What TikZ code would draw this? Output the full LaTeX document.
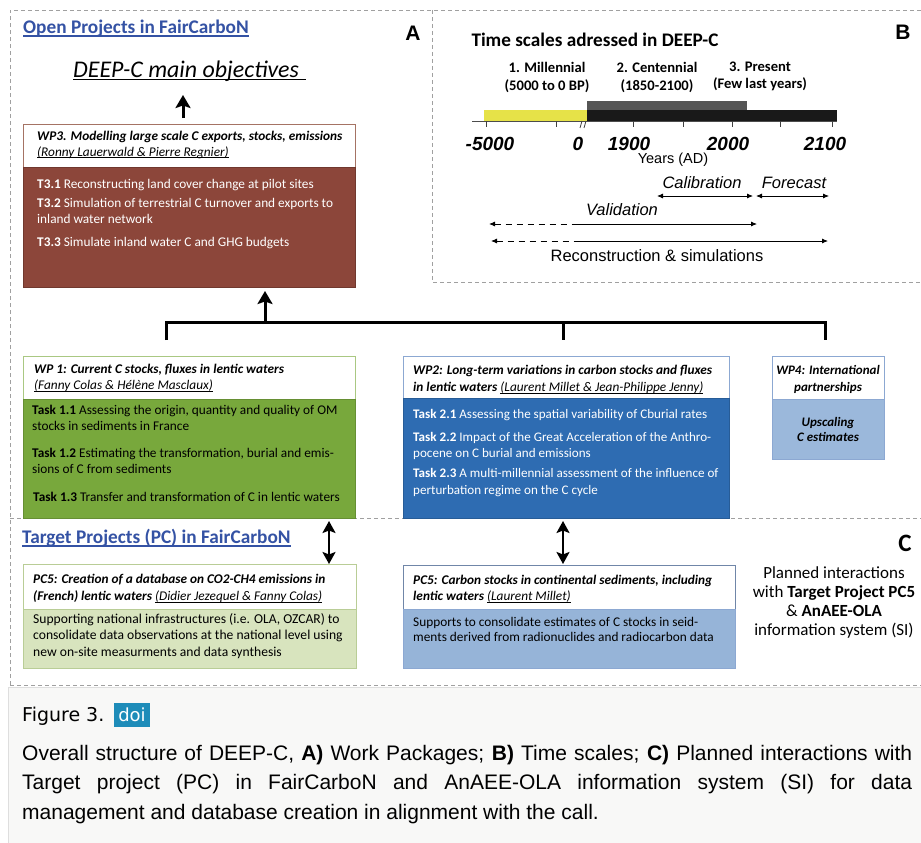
\documentclass[tikz,border=0pt]{standalone}
\usepackage{fontspec}
\setmainfont{Carlito}
\newfontfamily\arialf{Liberation Sans}
\newfontfamily\dejaf{DejaVu Sans}
\usetikzlibrary{arrows.meta}
\newcommand\fsz[2]{\fontsize{#1}{#2}\selectfont}
\newcommand\ulx[1]{\setbox0\hbox{#1}\rlap{\rule[-0.16em]{\wd0}{0.065em}}\box0}
\definecolor{titleblue}{RGB}{52,82,164}
\definecolor{wpbrown}{RGB}{140,70,58}
\definecolor{wpbrownline}{RGB}{165,115,100}
\definecolor{wpgreen}{RGB}{120,168,60}
\definecolor{wpgreenline}{RGB}{170,200,130}
\definecolor{wpblue}{RGB}{46,108,178}
\definecolor{wpblueline}{RGB}{140,168,210}
\definecolor{lightblue}{RGB}{155,184,219}
\definecolor{pcblue}{RGB}{150,180,216}
\definecolor{lightgreen}{RGB}{216,228,190}
\definecolor{lightgreenline}{RGB}{185,205,150}
\definecolor{yellowbar}{RGB}{230,226,72}
\definecolor{graybar}{RGB}{85,85,85}
\definecolor{blackbar}{RGB}{25,25,25}
\definecolor{dashgray}{RGB}{160,160,160}
\definecolor{capbg}{RGB}{248,248,247}
\definecolor{capline}{RGB}{222,222,222}
\definecolor{doiblue}{RGB}{30,140,185}
\tikzset{
  panel/.style={draw=dashgray, line width=0.8pt, dash pattern=on 4pt off 3pt},
  wbox/.style={rectangle, inner sep=0pt, outer sep=0pt, anchor=north west, line width=0.8pt},
  tl/.style={inner sep=0pt, anchor=base west, font=\fsz{13.3}{16}},
  tlb/.style={inner sep=0pt, anchor=base west, font=\fsz{13.6}{16}},
  tlw/.style={inner sep=0pt, anchor=base west, font=\fsz{13.1}{16}},
  tc/.style={inner sep=0pt, anchor=base},
  bigarrow/.style={line width=3pt, -{Stealth[length=13pt,width=15pt,inset=2.5pt]}},
  dblarrow/.style={line width=2.6pt, {Stealth[length=12pt,width=13pt,inset=2.5pt]}-{Stealth[length=12pt,width=13pt,inset=2.5pt]}},
  bracketline/.style={line width=3pt},
  thinarrow/.style={line width=0.8pt},
  lhead/.style={{Latex[length=6pt,width=5pt]}-},
  rhead/.style={-{Latex[length=6pt,width=5pt]}},
}
\begin{document}
\begin{tikzpicture}[x=1pt,y=-1pt]
\useasboundingbox (0,0) rectangle (921,843);
% caption background
\fill[capbg] (8,687) rectangle (921,843);
\draw[capline, line width=0.8pt] (8,843) -- (8,687) -- (921,687);
% panels
\draw[panel] (10,685) -- (10,10) -- (921,10);
\draw[panel] (432,10) -- (432,282) -- (921,282);
\draw[panel] (10,518) -- (921,518);
\draw[panel] (10,685) -- (921,685);

%% ---------- Panel A ----------
\node[tl, font=\fsz{19.3}{22}\bfseries, text=titleblue] (opentitle) at (23,33.5) {\ulx{Open Projects in FairCarboN}};
\node[tc, font=\arialf\bfseries\fsz{21}{24}] (labA) at (413,40.5) {A};
\node[tl, font=\fsz{23.9}{28}\itshape] (objectives) at (73,77.5) {DEEP-C main objectives};
\draw[line width=1pt] (objectives.base west) ++(0,2.5) -- ++(233,0);
\coordinate (objtail) at (183,118);
\coordinate (objtip) at (183,95);
\draw[bigarrow] (objtail) -- (objtip);

% WP3
\node[wbox, draw=wpbrownline, fill=white, minimum width=332pt, minimum height=43pt] (wp3h) at (23,124) {};
\node[wbox, draw=wpbrown!80!black, fill=wpbrown, minimum width=332pt, minimum height=120pt] (wp3b) at (23,167) {};
\node[tl] (w3a) at (37,140) {\textbf{\textit{WP3. Modelling large scale C exports, stocks, emissions}}};
\node[tl] (w3b) at (37,156) {\textit{\ulx{(Ronny Lauerwald \& Pierre Regnier)}}};
\node[tl, text=white] (w3c) at (37,188.5) {\textbf{T3.1} Reconstructing land cover change at pilot sites};
\node[tl, text=white] (w3d) at (37,207.5) {\textbf{T3.2} Simulation of terrestrial C turnover and exports to};
\node[tl, text=white] (w3e) at (37,223.5) {inland water network};
\node[tl, text=white] (w3f) at (37,246.5) {\textbf{T3.3} Simulate inland water C and GHG budgets};

% bracket
\coordinate (brL) at (166,340);
\coordinate (brLt) at (166,322);
\coordinate (brM) at (563,340);
\coordinate (brMt) at (563,322);
\coordinate (brR) at (825,340);
\coordinate (brRt) at (825,322);
\coordinate (brA) at (265,322);
\coordinate (brAtip) at (265,291);
\draw[bracketline] (brL) -- (brLt) -- (brRt) -- (brR);
\draw[bracketline] (brMt) -- (brM);
\draw[bigarrow] (brA) -- (brAtip);

% WP1
\node[wbox, draw=wpgreenline, fill=white, minimum width=332pt, minimum height=43pt] (wp1h) at (23,356) {};
\node[wbox, draw=wpgreen!85!black, fill=wpgreen, minimum width=332pt, minimum height=119pt] (wp1b) at (23,399) {};
\node[tl] (w1a) at (34,373.5) {\textbf{\textit{WP 1: Current C stocks, fluxes in lentic waters}}};
\node[tl] (w1b) at (34,389.5) {\textit{\ulx{(Fanny Colas \& Hélène Masclaux)}}};
\node[tl] (w1c) at (32,414.5) {\textbf{Task 1.1} Assessing the origin, quantity and quality of OM};
\node[tl] (w1d) at (32,430.5) {stocks in sediments in France};
\node[tl] (w1e) at (32,457.5) {\textbf{Task 1.2} Estimating the transformation, burial and emis-};
\node[tl] (w1f) at (32,473.5) {sions of C from sediments};
\node[tl] (w1g) at (33,501.5) {\textbf{Task 1.3} Transfer and transformation of C in lentic waters};

% WP2
\node[wbox, draw=wpblueline, fill=white, minimum width=326pt, minimum height=42pt] (wp2h) at (403,356) {};
\node[wbox, draw=wpblue!85!black, fill=wpblue, minimum width=326pt, minimum height=120pt] (wp2b) at (403,398) {};
\node[tl] (w2a) at (413,374.5) {\textbf{\textit{WP2: Long-term variations in carbon stocks and fluxes}}};
\node[tl] (w2b) at (413,391.5) {\textbf{\textit{in lentic waters}} \textit{\ulx{(Laurent Millet \& Jean-Philippe Jenny)}}};
\node[tlw, text=white] (w2c) at (413,418.5) {\textbf{Task 2.1} Assessing the spatial variability of Cburial rates};
\node[tlw, text=white] (w2d) at (413,441.5) {\textbf{Task 2.2} Impact of the Great Acceleration of the Anthro-};
\node[tlw, text=white] (w2e) at (413,457.5) {pocene on C burial and emissions};
\node[tlw, text=white] (w2f) at (413,477.5) {\textbf{Task 2.3} A multi-millennial assessment of the influence of};
\node[tlw, text=white] (w2g) at (413,494.5) {perturbation regime on the C cycle};

% WP4
\node[wbox, draw=wpblueline, fill=white, minimum width=112pt, minimum height=43pt] (wp4h) at (772,356) {};
\node[wbox, draw=wpblueline, fill=lightblue, minimum width=112pt, minimum height=60pt] (wp4b) at (772,399) {};
\node[tc, font=\fsz{13}{16}\bfseries\itshape] (w4a) at (828,374.5) {WP4: International};
\node[tc, font=\fsz{13}{16}\bfseries\itshape] (w4b) at (828,391.5) {partnerships};
\node[tc, font=\fsz{13}{16}\bfseries\itshape] (w4c) at (828,426.5) {Upscaling};
\node[tc, font=\fsz{13}{16}\bfseries\itshape] (w4d) at (828,441.5) {C estimates};

%% ---------- Panel B ----------
\node[tc, font=\fsz{19.2}{22}\bfseries] (tstitle) at (595,47) {Time scales adressed in DEEP-C};
\node[tc, font=\fsz{14.6}{17}\bfseries] (mil1) at (547,72.5) {1. Millennial};
\node[tc, font=\fsz{14.6}{17}\bfseries] (mil2) at (547,90.5) {(5000 to 0 BP)};
\node[tc, font=\fsz{14.6}{17}\bfseries] (cen1) at (657,72.5) {2. Centennial};
\node[tc, font=\fsz{14.6}{17}\bfseries] (cen2) at (657,90.5) {(1850-2100)};
\node[tc, font=\fsz{14.6}{17}\bfseries] (pre1) at (760,71.5) {3. Present};
\node[tc, font=\fsz{14.6}{17}\bfseries] (pre2) at (760,88.5) {(Few last years)};
% bars
\fill[yellowbar] (484,110) rectangle (587,121);
\fill[graybar] (587,101) rectangle (747,110);
\fill[blackbar] (587,110) rectangle (837,121);
\draw[line width=0.8pt, black!70] (472,121) -- (837,121);
\foreach \tx in {486,556,633,683,732,780,832}
  \draw[line width=0.9pt, black!75] (\tx,121) -- (\tx,127);
\draw[line width=0.8pt, black!75] (580,128) -- (582,121);
\draw[line width=0.8pt, black!75] (584,128) -- (586,121);
\foreach \tx/\tl/\nm in {490/-5000/ya,578/0/yb,629/1900/yc,728/2000/yd,825/2100/ye}
  \node[tc, font=\arialf\bfseries\itshape\fsz{19}{22}] (\nm) at (\tx,150) {\tl};
\node[tc, font=\arialf\fsz{14.5}{17}] (yearsad) at (673,163) {Years (AD)};
\node[tc, font=\arialf\itshape\fsz{16.5}{19}] (calib) at (702,188) {Calibration};
\node[tc, font=\arialf\itshape\fsz{16.5}{19}] (forec) at (794,188) {Forecast};
\node[tc, font=\arialf\itshape\fsz{16.5}{19}] (valid) at (622,215) {Validation};
\node[tc, font=\arialf\fsz{16.5}{19}] (recon) at (657,261) {Reconstruction \& simulations};
\coordinate (ca1) at (657,196); \coordinate (ca2) at (753,196);
\coordinate (fo1) at (756,196); \coordinate (fo2) at (829,196);
\coordinate (va1) at (489,224); \coordinate (va2) at (578,224); \coordinate (va3) at (757,224);
\coordinate (re1) at (491,241); \coordinate (re2) at (580,241); \coordinate (re3) at (828,241);
\draw[thinarrow, {Latex[length=6pt,width=5pt]}-{Latex[length=6pt,width=5pt]}] (ca1) -- (ca2);
\draw[thinarrow, {Latex[length=6pt,width=5pt]}-{Latex[length=6pt,width=5pt]}] (fo1) -- (fo2);
\draw[thinarrow, lhead, dash pattern=on 6pt off 5pt] (va1) -- (va2);
\draw[thinarrow, rhead] (va2) -- (va3);
\draw[thinarrow, lhead, dash pattern=on 6pt off 5pt] (re1) -- (re2);
\draw[thinarrow, rhead] (re2) -- (re3);
\node[tc, font=\arialf\bfseries\fsz{21}{24}] (labB) at (903,39.5) {B};

%% ---------- Panel C ----------
\node[tl, font=\fsz{19.3}{22}\bfseries, text=titleblue] (targettitle) at (22,543.5) {\ulx{Target Projects (PC) in FairCarboN}};
\node[tc, font=\fsz{25}{28}\bfseries] (labC) at (905,551) {C};
% PC5 left
\node[wbox, draw=lightgreenline, fill=white, minimum width=333pt, minimum height=45pt] (pc1h) at (23,564) {};
\node[wbox, draw=lightgreenline, fill=lightgreen, minimum width=333pt, minimum height=59pt] (pc1b) at (23,609) {};
\node[tl] (p1a) at (33,583.5) {\textbf{\textit{PC5: Creation of a database on CO2-CH4 emissions in}}};
\node[tl] (p1b) at (33,600.5) {\textbf{\textit{(French) lentic waters}} \textit{\ulx{(Didier Jezequel \& Fanny Colas)}}};
\node[tlb] (p1c) at (33,623.5) {Supporting national infrastructures (i.e. OLA, OZCAR) to};
\node[tlb] (p1d) at (33,639.5) {consolidate data observations at the national level using};
\node[tlb] (p1e) at (33,656.5) {new on-site measurments and data synthesis};
% PC5 right
\node[wbox, draw=wpblueline!80!black, fill=white, minimum width=332pt, minimum height=44pt] (pc2h) at (403,565) {};
\node[wbox, draw=wpblueline, fill=pcblue, minimum width=332pt, minimum height=59pt] (pc2b) at (403,609) {};
\node[tl] (p2a) at (413,584.5) {\textbf{\textit{PC5: Carbon stocks in continental sediments, including}}};
\node[tl] (p2b) at (413,600.5) {\textbf{\textit{lentic waters}} \textit{\ulx{(Laurent Millet)}}};
\node[tl] (p2c) at (413,626.5) {Supports to consolidate estimates of C stocks in seid-};
\node[tl] (p2d) at (413,641.5) {ments derived from radionuclides and radiocarbon data};
% double arrows
\coordinate (da1) at (329,521);
\coordinate (da2) at (329,564);
\draw[dblarrow] (da1) -- (da2);
\coordinate (db1) at (563,521);
\coordinate (db2) at (563,564);
\draw[dblarrow] (db1) -- (db2);
% right text
\node[tc, font=\fsz{17}{20}] (pl1) at (834,578) {Planned interactions};
\node[tc, font=\fsz{17}{20}] (pl2) at (834,597) {with \textbf{Target Project PC5}};
\node[tc, font=\fsz{17}{20}] (pl3) at (834,616) {\& \textbf{AnAEE-OLA}};
\node[tc, font=\fsz{17}{20}] (pl4) at (834,635) {information system (SI)};

%% ---------- Caption ----------
\node[tl, font=\dejaf\fsz{19}{22}] (figlabel) at (22,721.5) {Figure 3.};
\node[fill=doiblue, text=white, font=\dejaf\fsz{18}{20}, minimum width=36pt, minimum height=24pt, inner sep=0pt] (doi) at (132,715) {doi};
\node[inner sep=0pt, anchor=base west, text width=890pt, align=justify, font=\arialf\fsz{21}{29.5}] (caption) at (22,760) {\noindent Overall structure of DEEP-C, \textbf{A)} Work Packages; \textbf{B)} Time scales; \textbf{C)} Planned interactions with\linebreak Target project (PC) in FairCarboN and AnAEE-OLA information system (SI) for data\linebreak management and database creation in alignment with the call.};
\end{tikzpicture}
\end{document}
